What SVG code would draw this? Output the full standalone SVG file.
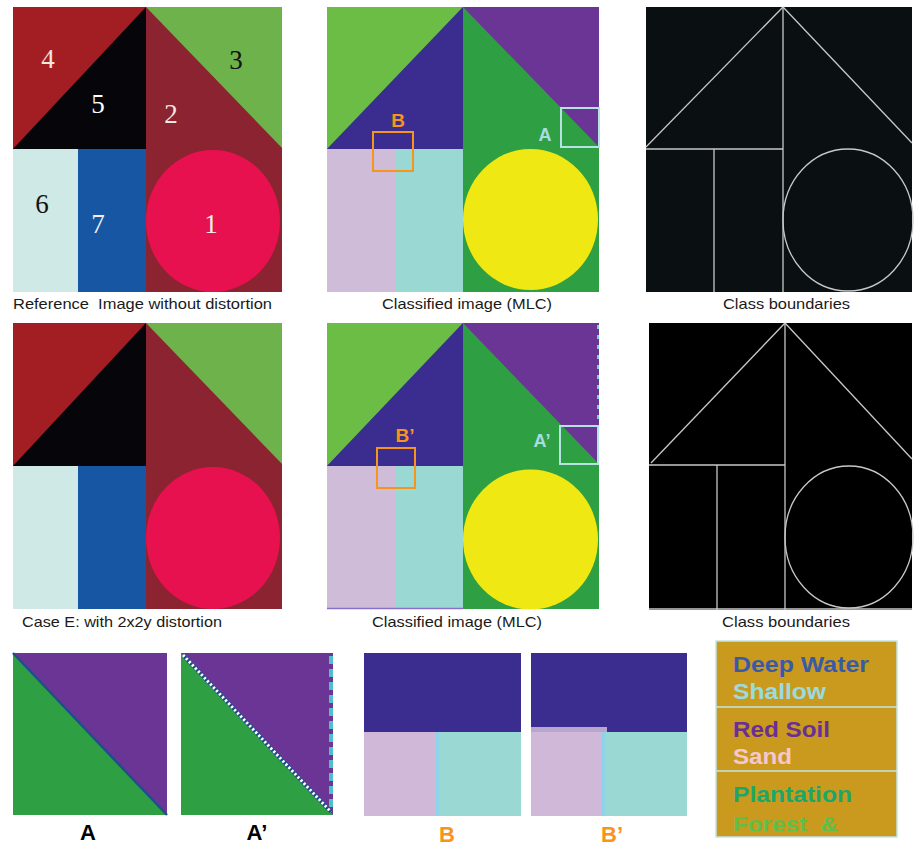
<svg xmlns="http://www.w3.org/2000/svg" width="914" height="847" viewBox="0 0 914 847">
<style>
.cap{font-family:"Liberation Sans",Arial,sans-serif;font-size:15px;fill:#1a1a1a;white-space:pre}
.num{font-family:"Liberation Serif","Times New Roman",serif;font-size:27px}
.bl{font-family:"Liberation Sans",Arial,sans-serif;font-weight:bold}
.edge{stroke:#c8c8c8;stroke-width:1.3;fill:none}
.leg{font-family:"Liberation Sans",Arial,sans-serif;font-weight:bold;font-size:22px;white-space:pre}
</style>
<defs>
<clipPath id="legclip"><rect x="716" y="641" width="181" height="190"/></clipPath>
</defs>
<rect width="914" height="847" fill="#ffffff"/>

<!-- Panel 1: reference image -->
<g id="ref1">
<rect x="13" y="7" width="269" height="285" fill="#8c2331"/>
<polygon points="13,7 146,7 13,149" fill="#a31e23"/>
<polygon points="146,7 146,149 13,149" fill="#05050a"/>
<polygon points="146,7 282,7 282,148" fill="#6db24a"/>
<rect x="13" y="149" width="65" height="143" fill="#cfe9e6"/>
<rect x="78" y="149" width="68" height="143" fill="#1656a3"/>
<ellipse cx="213" cy="221" rx="67" ry="71" fill="#e8114f"/>
<text class="num" x="48" y="68" fill="#f2e6e0" text-anchor="middle">4</text>
<text class="num" x="236" y="69" fill="#111" text-anchor="middle">3</text>
<text class="num" x="98" y="113" fill="#ffffff" text-anchor="middle">5</text>
<text class="num" x="171" y="123" fill="#f2e6e0" text-anchor="middle">2</text>
<text class="num" x="42" y="213" fill="#111" text-anchor="middle">6</text>
<text class="num" x="98" y="233" fill="#f0f0f0" text-anchor="middle">7</text>
<text class="num" x="211" y="233" fill="#f5e8e8" text-anchor="middle">1</text>
<text class="cap" x="13" y="309" xml:space="preserve" textLength="259" lengthAdjust="spacingAndGlyphs">Reference  Image without distortion</text>
</g>

<!-- Panel 2: classified -->
<g id="cls1">
<rect x="327" y="7" width="272" height="285" fill="#2ea043"/>
<polygon points="327,7 463,7 327,149" fill="#6cbd45"/>
<polygon points="463,7 463,149 327,149" fill="#3a2d8f"/>
<polygon points="463,7 599,7 599,147" fill="#6a3594"/>
<rect x="327" y="149" width="68" height="143" fill="#cfbcd8"/>
<rect x="395" y="149" width="68" height="143" fill="#9ad8d3"/>
<ellipse cx="530.5" cy="219.5" rx="67.5" ry="70.5" fill="#f0e812"/>
<rect x="373" y="132" width="40" height="39" fill="none" stroke="#f7941d" stroke-width="2"/>
<text class="bl" x="398" y="127" font-size="19" fill="#f7941d" text-anchor="middle">B</text>
<rect x="561" y="108" width="38" height="39" fill="none" stroke="#b5e3e3" stroke-width="2"/>
<text class="bl" x="545" y="141" font-size="18" fill="#a8dde0" text-anchor="middle">A</text>
<text class="cap" x="382" y="309" textLength="170" lengthAdjust="spacingAndGlyphs">Classified image (MLC)</text>
</g>

<!-- Panel 3: boundaries -->
<g id="bnd1">
<rect x="646" y="7" width="266" height="285" fill="#0a0f12"/>
<line class="edge" x1="783" y1="7" x2="783" y2="292"/>
<line class="edge" x1="646" y1="149" x2="783" y2="149"/>
<line class="edge" x1="714" y1="149" x2="714" y2="292"/>
<line class="edge" x1="783" y1="7" x2="646" y2="147"/>
<line class="edge" x1="783" y1="7" x2="912" y2="143"/>
<ellipse class="edge" cx="848" cy="220" rx="65" ry="71"/>
<text class="cap" x="723" y="309" textLength="127" lengthAdjust="spacingAndGlyphs">Class boundaries</text>
</g>

<!-- Panel 4: distorted image -->
<g id="ref2">
<rect x="13" y="323" width="269" height="286" fill="#8c2331"/>
<polygon points="13,323 146,323 13,466" fill="#a31e23"/>
<polygon points="146,323 146,466 13,466" fill="#05050a"/>
<polygon points="146,323 282,323 282,464" fill="#6db24a"/>
<rect x="13" y="466" width="65" height="143" fill="#cfe9e6"/>
<rect x="78" y="466" width="68" height="143" fill="#1656a3"/>
<ellipse cx="213" cy="538" rx="67" ry="71" fill="#e8114f"/>
<text class="cap" x="22" y="627" textLength="200" lengthAdjust="spacingAndGlyphs">Case E: with 2x2y distortion</text>
</g>

<!-- Panel 5: classified distorted -->
<g id="cls2">
<rect x="327" y="323" width="272" height="286" fill="#2ea043"/>
<polygon points="327,323 463,323 327,466" fill="#6cbd45"/>
<polygon points="463,323 463,466 327,466" fill="#3a2d8f"/>
<polygon points="463,323 599,323 599,464" fill="#6a3594"/>
<rect x="327" y="466" width="68" height="143" fill="#cfbcd8"/>
<rect x="395" y="466" width="68" height="143" fill="#9ad8d3"/>
<ellipse cx="530.5" cy="539.5" rx="67.5" ry="70" fill="#f0e812"/>
<line x1="598" y1="325" x2="598" y2="420" stroke="#7fd0d0" stroke-width="2" stroke-dasharray="4,6"/>
<line x1="327" y1="608.5" x2="463" y2="608.5" stroke="#8a6fc8" stroke-width="1.5"/>
<rect x="377" y="448" width="38" height="40" fill="none" stroke="#f7941d" stroke-width="2"/>
<text class="bl" x="405" y="442" font-size="19" fill="#f7941d" text-anchor="middle">B’</text>
<rect x="560" y="426" width="38" height="38" fill="none" stroke="#b5e3e3" stroke-width="2"/>
<text class="bl" x="542" y="447" font-size="18" fill="#a8dde0" text-anchor="middle">A’</text>
<text class="cap" x="372" y="627" textLength="170" lengthAdjust="spacingAndGlyphs">Classified image (MLC)</text>
</g>

<!-- Panel 6: boundaries distorted -->
<g id="bnd2">
<rect x="649" y="323" width="263" height="287" fill="#000000"/>
<line class="edge" x1="785" y1="323" x2="785" y2="610"/>
<line class="edge" x1="649" y1="465" x2="785" y2="465"/>
<line class="edge" x1="717" y1="465" x2="717" y2="610"/>
<line class="edge" x1="785" y1="323" x2="651" y2="463"/>
<line class="edge" x1="785" y1="323" x2="912" y2="459"/>
<ellipse class="edge" cx="849" cy="537" rx="64" ry="71"/>
<line class="edge" x1="649" y1="609" x2="912" y2="609"/>
<text class="cap" x="722" y="627" textLength="128" lengthAdjust="spacingAndGlyphs">Class boundaries</text>
</g>

<!-- Bottom: zoom A -->
<g id="zoomA">
<rect x="13" y="653" width="154" height="162" fill="#2ea043"/>
<polygon points="13,653 167,653 167,815" fill="#6a3594"/>
<line x1="13" y1="653" x2="167" y2="815" stroke="#1f4f8a" stroke-width="2.5"/>
<text class="bl" x="88" y="840" font-size="22" fill="#000" text-anchor="middle">A</text>
</g>

<!-- Bottom: zoom A' -->
<g id="zoomA2">
<rect x="181" y="653" width="152" height="162" fill="#2ea043"/>
<polygon points="181,653 333,653 333,815" fill="#6a3594"/>
<line x1="183" y1="655" x2="331" y2="812" stroke="#1f4f8a" stroke-width="4"/>
<line x1="183" y1="655" x2="331" y2="812" stroke="#ffffff" stroke-width="3" stroke-dasharray="2.2,2.2"/>
<line x1="331" y1="656" x2="331" y2="812" stroke="#4fc0c8" stroke-width="4" stroke-dasharray="8,5"/>
<text class="bl" x="257" y="840" font-size="22" fill="#000" text-anchor="middle">A’</text>
</g>

<!-- Bottom: zoom B -->
<g id="zoomB">
<rect x="364" y="653" width="157" height="163" fill="#9ad8d3"/>
<rect x="364" y="653" width="157" height="79" fill="#3a2d8f"/>
<rect x="364" y="732" width="73" height="84" fill="#d0b8d8"/>
<rect x="436" y="732" width="3" height="84" fill="#8fd3ea"/>
<text class="bl" x="447" y="842" font-size="22" fill="#f7941d" text-anchor="middle">B</text>
</g>

<!-- Bottom: zoom B' -->
<g id="zoomB2">
<rect x="531" y="653" width="156" height="163" fill="#9ad8d3"/>
<rect x="531" y="653" width="156" height="79" fill="#3a2d8f"/>
<rect x="531" y="727" width="76" height="5" fill="#b8a6cc"/>
<rect x="531" y="732" width="72" height="84" fill="#d0b8d8"/>
<rect x="602" y="732" width="3" height="84" fill="#8fd3ea"/>
<text class="bl" x="612" y="842" font-size="22" fill="#f7941d" text-anchor="middle">B’</text>
</g>

<!-- Legend -->
<g id="legend">
<rect x="716" y="641" width="181" height="196" fill="#c99a1e" stroke="#bfe6ea" stroke-width="1.5"/>
<line x1="716" y1="707" x2="897" y2="707" stroke="#bfe6ea" stroke-width="1.5"/>
<line x1="716" y1="771" x2="897" y2="771" stroke="#bfe6ea" stroke-width="1.5"/>
<g clip-path="url(#legclip)">
<text class="leg" x="733" y="672" fill="#3a5aa8" textLength="136" lengthAdjust="spacingAndGlyphs">Deep Water</text>
<text class="leg" x="733" y="699" fill="#9adbe0" textLength="93" lengthAdjust="spacingAndGlyphs">Shallow</text>
<text class="leg" x="733" y="737" fill="#6a2f95" textLength="97" lengthAdjust="spacingAndGlyphs">Red Soil</text>
<text class="leg" x="733" y="764" fill="#f5c8d0" textLength="59" lengthAdjust="spacingAndGlyphs">Sand</text>
<text class="leg" x="733" y="802" fill="#1aa86a" textLength="119" lengthAdjust="spacingAndGlyphs">Plantation</text>
<text class="leg" x="733" y="832" fill="#5ec04a" xml:space="preserve" textLength="105" lengthAdjust="spacingAndGlyphs">Forest  &amp;</text>
</g>
</g>
</svg>
